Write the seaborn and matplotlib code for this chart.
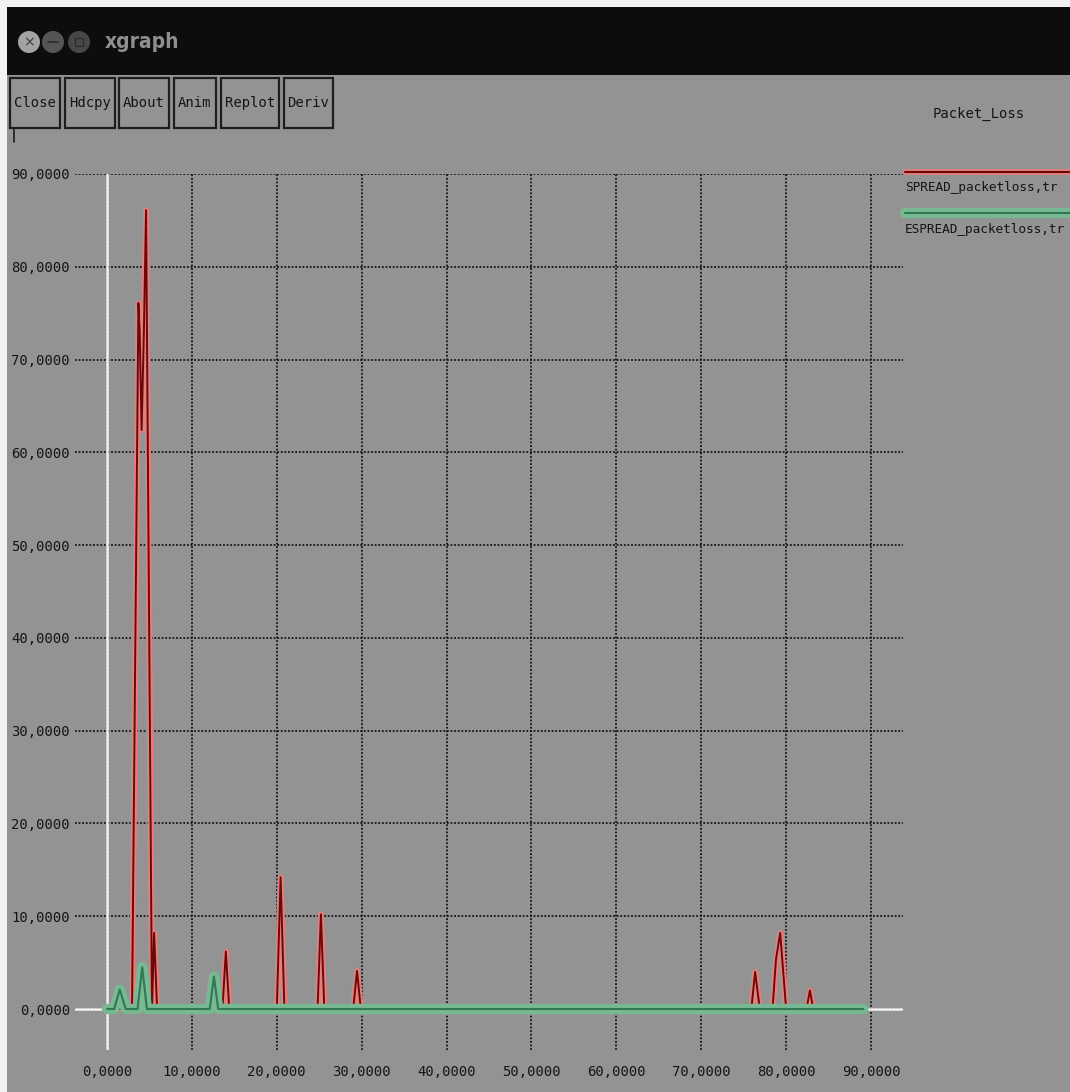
import matplotlib
matplotlib.use("Agg")
import matplotlib.pyplot as plt
import seaborn as sns
import pandas as pd
from matplotlib.patches import Rectangle, Circle
from matplotlib.lines import Line2D
from matplotlib.transforms import IdentityTransform
from matplotlib import font_manager as fm

# ---- data -------------------------------------------------------------
spread_x = [0, 2.95, 3.7, 3.85, 4.08, 4.35, 4.6, 5.3, 5.55, 5.9,
            13.6, 14.0, 14.4, 20.0, 20.45, 20.9, 24.8, 25.2, 25.6,
            29.0, 29.45, 29.9, 75.9, 76.35, 76.9, 78.4, 78.8, 79.3, 80.0,
            82.4, 82.8, 83.2, 89.1]
spread_y = [0, 0, 76.1, 73.0, 62.4, 73.2, 86.1, 0, 8.2, 0,
            0, 6.2, 0, 0, 14.2, 0, 0, 10.2, 0,
            0, 4.1, 0, 0, 4.0, 0, 0, 5.3, 8.2, 0,
            0, 2.0, 0, 0]

espread_x = [0, 0.85, 1.5, 2.2, 3.6, 4.15, 4.7, 12.1, 12.6, 13.1, 89.1]
espread_y = [0, 0, 2.1, 0, 0, 4.5, 0, 0, 3.5, 0, 0]

tick_values = [0, 10, 20, 30, 40, 50, 60, 70, 80, 90]
tick_labels = [f"{v},0000" for v in tick_values]
buttons = ["Close", "Hdcpy", "About", "Anim", "Replot", "Deriv"]
series_names = ["SPREAD_packetloss,tr", "ESPREAD_packetloss,tr"]
plot_title = "Packet_Loss"
window_title = "xgraph"

# ---- style ------------------------------------------------------------
BG = "#939393"
RED_HALO, RED_CORE = "#e0807c", "#6e0808"
GRN_HALO, GRN_CORE = "#78b892", "#2f7a52"
INK = "#151515"

sns.set_theme(style="white")
MONO = "DejaVu Sans Mono"
plt.rcParams["font.family"] = [MONO, "DejaVu Sans"]
has_condensed = any(f.name == "DejaVu Sans" and f.stretch == "condensed"
                    for f in fm.fontManager.ttflist)
TITLE_FONT = dict(family=["DejaVu Sans"], fontweight="bold",
                  fontstretch="condensed" if has_condensed else "normal",
                  fontsize=15 if has_condensed else 13.5)

W, H = 1070, 1092
fig = plt.figure(figsize=(W / 100, H / 100), dpi=100, facecolor=BG)
PX = IdentityTransform()


def py(y):
    return H - y


# plot frame in pixel terms
left, right, top, bottom = 75, 903, 174, 1050
x0_px, x_scale = 107, 8.489
y0_px, y_scale = 1009, 9.278

ax = fig.add_axes([left / W, (H - bottom) / H, (right - left) / W, (bottom - top) / H])
ax.set_facecolor(BG)
ax.set_xlim((left - x0_px) / x_scale, (right - x0_px) / x_scale)
ax.set_ylim(-(bottom - y0_px) / y_scale, 90)
for s in ax.spines.values():
    s.set_visible(False)

ax.set_xticks(tick_values)
ax.set_xticklabels(tick_labels)
ax.set_yticks(tick_values)
ax.set_yticklabels(tick_labels)
ax.tick_params(axis="y", length=0, pad=3.6, labelsize=10, labelcolor=INK)
ax.tick_params(axis="x", length=0, pad=10.5, labelsize=10, labelcolor=INK)
ax.set_axisbelow(True)
ax.grid(True, color=INK, linestyle=(0, (1, 1)), linewidth=1.3)
ax.axhline(0, color="#f4f4f4", lw=1.8, zorder=1.5)
ax.axvline(0, color="#f4f4f4", lw=1.8, zorder=1.5)

spread = pd.DataFrame({"t": spread_x, "loss": spread_y})
espread = pd.DataFrame({"t": espread_x, "loss": espread_y})

sns.lineplot(data=spread, x="t", y="loss", ax=ax, sort=False, estimator=None,
             color=RED_HALO, lw=4.3, legend=False, zorder=3)
sns.lineplot(data=spread, x="t", y="loss", ax=ax, sort=False, estimator=None,
             color=RED_CORE, lw=1.4, legend=False, zorder=4)
sns.lineplot(data=espread, x="t", y="loss", ax=ax, sort=False, estimator=None,
             color=GRN_HALO, lw=7.5, legend=False, zorder=5)
sns.lineplot(data=espread, x="t", y="loss", ax=ax, sort=False, estimator=None,
             color=GRN_CORE, lw=1.5, legend=False, zorder=6)
ax.set_xlabel("")
ax.set_ylabel("")

# ---- window chrome ------------------------------------------------------
fig.patches.append(Rectangle((0, 0), 7, H, transform=PX,
                             facecolor="#f2f2f2", edgecolor="none"))
fig.patches.append(Rectangle((0, py(7)), W, 7, transform=PX,
                             facecolor="#f2f2f2", edgecolor="none"))
fig.patches.append(Rectangle((7, py(75)), W - 7, 68, transform=PX,
                             facecolor="#0d0d0d", edgecolor="none"))
for cx, col in [(29, "#a3a3a3"), (53, "#555555"), (79, "#474747")]:
    fig.patches.append(Circle((cx, py(42)), 11, transform=PX,
                              facecolor=col, edgecolor="none"))
fig.text(29, py(42), "×", transform=PX, ha="center", va="center",
         fontsize=10, color="#3a3a3a", family=["DejaVu Sans"])
fig.lines.append(Line2D([48, 58], [py(42), py(42)], transform=PX,
                        color="#2a2a2a", lw=1.2))
fig.patches.append(Rectangle((75, py(46)), 8, 8, transform=PX,
                             facecolor="none", edgecolor="#2a2a2a", lw=0.8))
fig.text(105, py(42), window_title, transform=PX, ha="left", va="center",
         color="#8f8f8f", **TITLE_FONT)

# button row
button_boxes = [(10, 60), (65, 115), (119, 169), (174, 216), (221, 279), (284, 333)]
for label, (bx0, bx1) in zip(buttons, button_boxes):
    fig.patches.append(Rectangle((bx0, py(128)), bx1 - bx0, 50, transform=PX,
                                 facecolor=BG, edgecolor="#1e1e1e", lw=1.6))
    fig.text((bx0 + bx1) / 2, py(103), label, transform=PX, ha="center",
             va="center", fontsize=10, color=INK)
fig.lines.append(Line2D([14, 14], [py(128), py(142)], transform=PX,
                        color="#1e1e1e", lw=1.2))

# ---- legend ------------------------------------------------------------
fig.text(979, py(114), plot_title, transform=PX, ha="center", va="center",
         fontsize=10, color=INK)
for yl, halo, core, lw_h, name in [(172, RED_HALO, RED_CORE, 4.3, series_names[0]),
                                   (213, GRN_HALO, GRN_CORE, 7.5, series_names[1])]:
    fig.lines.append(Line2D([905, W], [py(yl), py(yl)], transform=PX,
                            color=halo, lw=lw_h))
    fig.lines.append(Line2D([905, W], [py(yl), py(yl)], transform=PX,
                            color=core, lw=1.5))
    fig.text(905, py(yl + 16), name, transform=PX, ha="left", va="center",
             fontsize=9.2, color=INK)

fig.savefig("out.png", dpi=100, facecolor=BG)
